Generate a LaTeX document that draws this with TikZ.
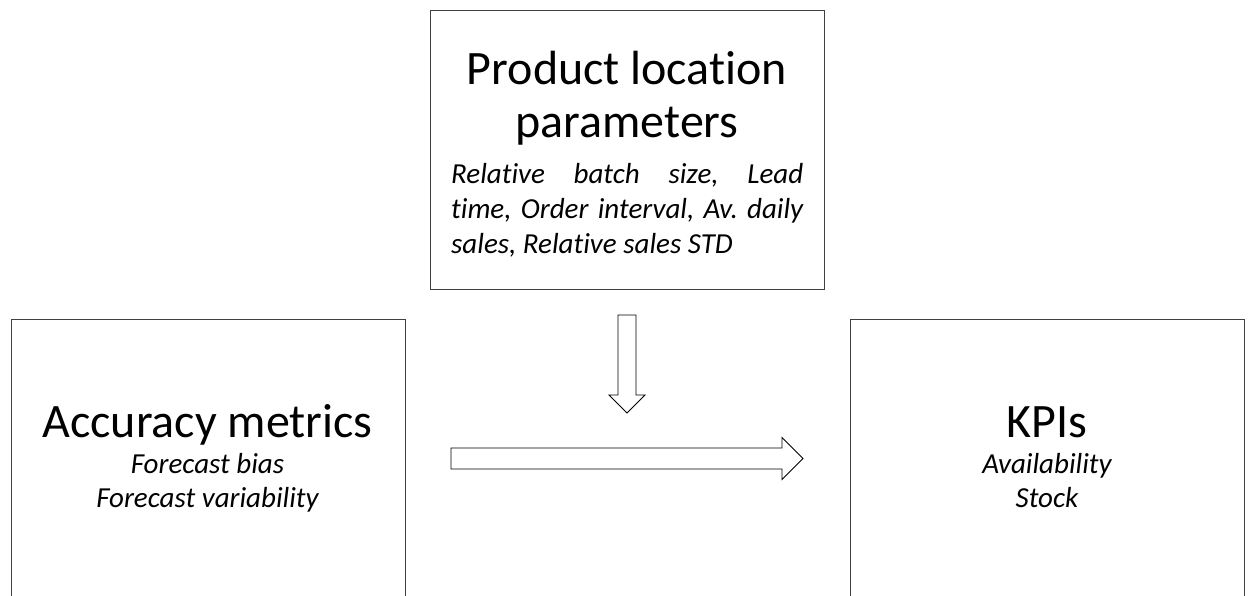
\documentclass[tikz,border=0pt]{standalone}
\usepackage{fontspec}
\setmainfont{Carlito}[RawFeature=-liga]
\frenchspacing
\begin{document}
\begin{tikzpicture}[x=1pt,y=-1pt,
  box/.style={draw=black!75, line width=1.2pt, inner sep=0pt, minimum width=394pt},
  title/.style={font=\fontsize{48}{53}\selectfont, anchor=base, inner sep=0pt},
  desc/.style={font=\fontsize{29}{35}\selectfont\itshape, anchor=base, inner sep=0pt},
  blockarrow/.style={draw=black, line width=0.9pt, fill=white, line join=miter}]
\useasboundingbox (0,0) rectangle (1251,595);
\clip (0,0) rectangle (1251,595);
% boxes
\node[box, minimum height=279pt, anchor=north west] (params) at (430,10) {};
\node[box, minimum height=300pt, anchor=north west] (acc) at (11,319) {};
\node[box, minimum height=300pt, anchor=north west] (kpi) at (850,319) {};
% top box text
\node[title] (paramsT1) at (627,84) {Product location};
\node[title] (paramsT2) at (627,137) {parameters};
\node[inner sep=0pt, anchor=base west] (paramsD) at (451,183)
  {\parbox[t]{352pt}{\fontsize{29}{35}\selectfont\itshape\hyphenpenalty=10000\frenchspacing
   Relative batch size, Lead\linebreak time, Order interval, Av. daily\linebreak sales, Relative sales STD}};
% left box text
\node[title] (accT) at (207.5,437) {Accuracy metrics};
\node[desc] (accD1) at (207.5,473) {Forecast bias};
\node[desc] (accD2) at (207.5,507) {Forecast variability};
% right box text
\node[title] (kpiT) at (1047,437) {KPIs};
\node[desc] (kpiD1) at (1047,473) {Availability};
\node[desc] (kpiD2) at (1047,507) {Stock};
% block arrows
\coordinate (downA) at (627,315);
\coordinate (rightA) at (451,458.5);
\draw[blockarrow, shift={(downA)}] (-9,0) -- (9,0) -- (9,80) -- (18,80) -- (0,98) -- (-18,80) -- (-9,80) -- cycle;
\draw[blockarrow, shift={(rightA)}] (0,-10.5) -- (331,-10.5) -- (331,-21) -- (352,0) -- (331,21) -- (331,10.5) -- (0,10.5) -- cycle;
\end{tikzpicture}
\end{document}
